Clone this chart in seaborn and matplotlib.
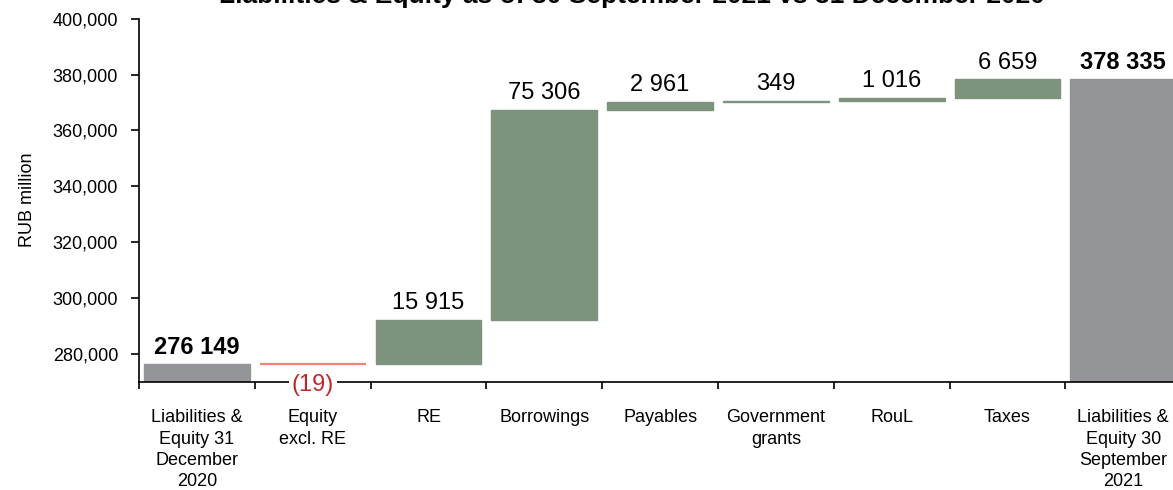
import numpy as np
import pandas as pd
import matplotlib
matplotlib.use("Agg")
import matplotlib.pyplot as plt
import seaborn as sns
from matplotlib.ticker import FuncFormatter
from matplotlib.transforms import blended_transform_factory

# Waterfall steps: opening balance, movements, closing balance
categories = [
    "Liabilities &\nEquity 31\nDecember\n2020",
    "Equity\nexcl. RE",
    "RE",
    "Borrowings",
    "Payables",
    "Government\ngrants",
    "RouL",
    "Taxes",
    "Liabilities &\nEquity 30\nSeptember\n2021",
]
opening_total = 276149
changes = [-19, 15915, 75306, 2961, 349, 1016, 6659]
closing_total = 378335

title = "Liabilities & Equity as of 30 September 2021 vs 31 December 2020"
y_label = "RUB million"

colors = {"total": "#939598", "increase": "#7e937e", "decrease": "#f4827c"}
edge_widths = {"total": 1.0, "increase": 1.0, "decrease": 1.6}
neg_label_color = "#c0272d"

# Build the floating-bar table
rows = [dict(label=categories[0], bottom=0, height=opening_total,
             kind="total", value=opening_total)]
level = opening_total
for cat, d in zip(categories[1:-1], changes):
    if d >= 0:
        rows.append(dict(label=cat, bottom=level, height=d, kind="increase", value=d))
    else:
        rows.append(dict(label=cat, bottom=level + d, height=-d, kind="decrease", value=d))
    level += d
rows.append(dict(label=categories[-1], bottom=0, height=closing_total,
                 kind="total", value=closing_total))
df = pd.DataFrame(rows)

sns.set_theme(style="white")
plt.rcParams["font.family"] = ["Liberation Sans", "DejaVu Sans"]

fig = plt.figure(figsize=(11.73, 4.9), dpi=100)
ax = fig.add_axes([0.1185, 0.2214, 0.8885, 0.7404])

for kind, sub in df.groupby("kind", sort=False):
    sns.barplot(
        data=sub, x="label", y="height", order=categories,
        color=colors[kind], saturation=1, width=0.915,
        bottom=sub["bottom"].to_numpy(), edgecolor=colors[kind],
        linewidth=edge_widths[kind], errorbar=None, ax=ax,
    )

ax.set_ylim(270000, 400000)
ax.set_xlim(-0.5, len(categories) - 0.5)
ax.set_yticks(np.arange(280000, 400001, 20000))
ax.yaxis.set_major_formatter(FuncFormatter(lambda v, p: f"{int(v):,}"))
ax.set_xlabel("")
ax.set_ylabel(y_label, fontsize=13, color="black")
ax.yaxis.set_label_coords(-0.099, 0.5)

ax.set_xticks(range(len(categories)))
ax.set_xticklabels(categories, fontsize=13, linespacing=1.33, color="black")
ax.set_xticks(np.arange(-0.5, len(categories) + 0.5, 1), minor=True)
ax.tick_params(axis="x", which="major", length=0, pad=20)
ax.tick_params(axis="x", which="minor", length=5, width=1.2, color="black",
               direction="out", bottom=True)
ax.tick_params(axis="y", which="major", length=6, width=1.2, color="black",
               direction="out", left=True, pad=9, labelsize=13, labelcolor="black")

for side in ("top", "right"):
    ax.spines[side].set_visible(False)
for side in ("left", "bottom"):
    ax.spines[side].set_color("black")
    ax.spines[side].set_linewidth(1.2)

# Value labels
trans = blended_transform_factory(ax.transData, ax.transAxes)
for i, r in df.iterrows():
    if r["kind"] == "decrease":
        ax.annotate(f"({abs(r['value']):,})".replace(",", " "),
                    xy=(i, 0.0), xycoords=trans, xytext=(0, -2.5),
                    textcoords="offset points", ha="center", va="center",
                    fontsize=17, color=neg_label_color, zorder=10,
                    annotation_clip=False,
                    bbox=dict(boxstyle="square,pad=0.12", fc="white", ec="none"))
    else:
        ax.annotate(f"{r['value']:,}".replace(",", " "),
                    xy=(i, r["bottom"] + r["height"]), xytext=(0, 4),
                    textcoords="offset points", ha="center", va="bottom",
                    fontsize=17, color="black",
                    fontweight="bold" if r["kind"] == "total" else "normal",
                    annotation_clip=False)

fig.text(632 / 1173, 1 - 3 / 490, title, ha="center", va="baseline",
         fontsize=19, fontweight="bold", color="black")

fig.savefig("out.png", dpi=100)
